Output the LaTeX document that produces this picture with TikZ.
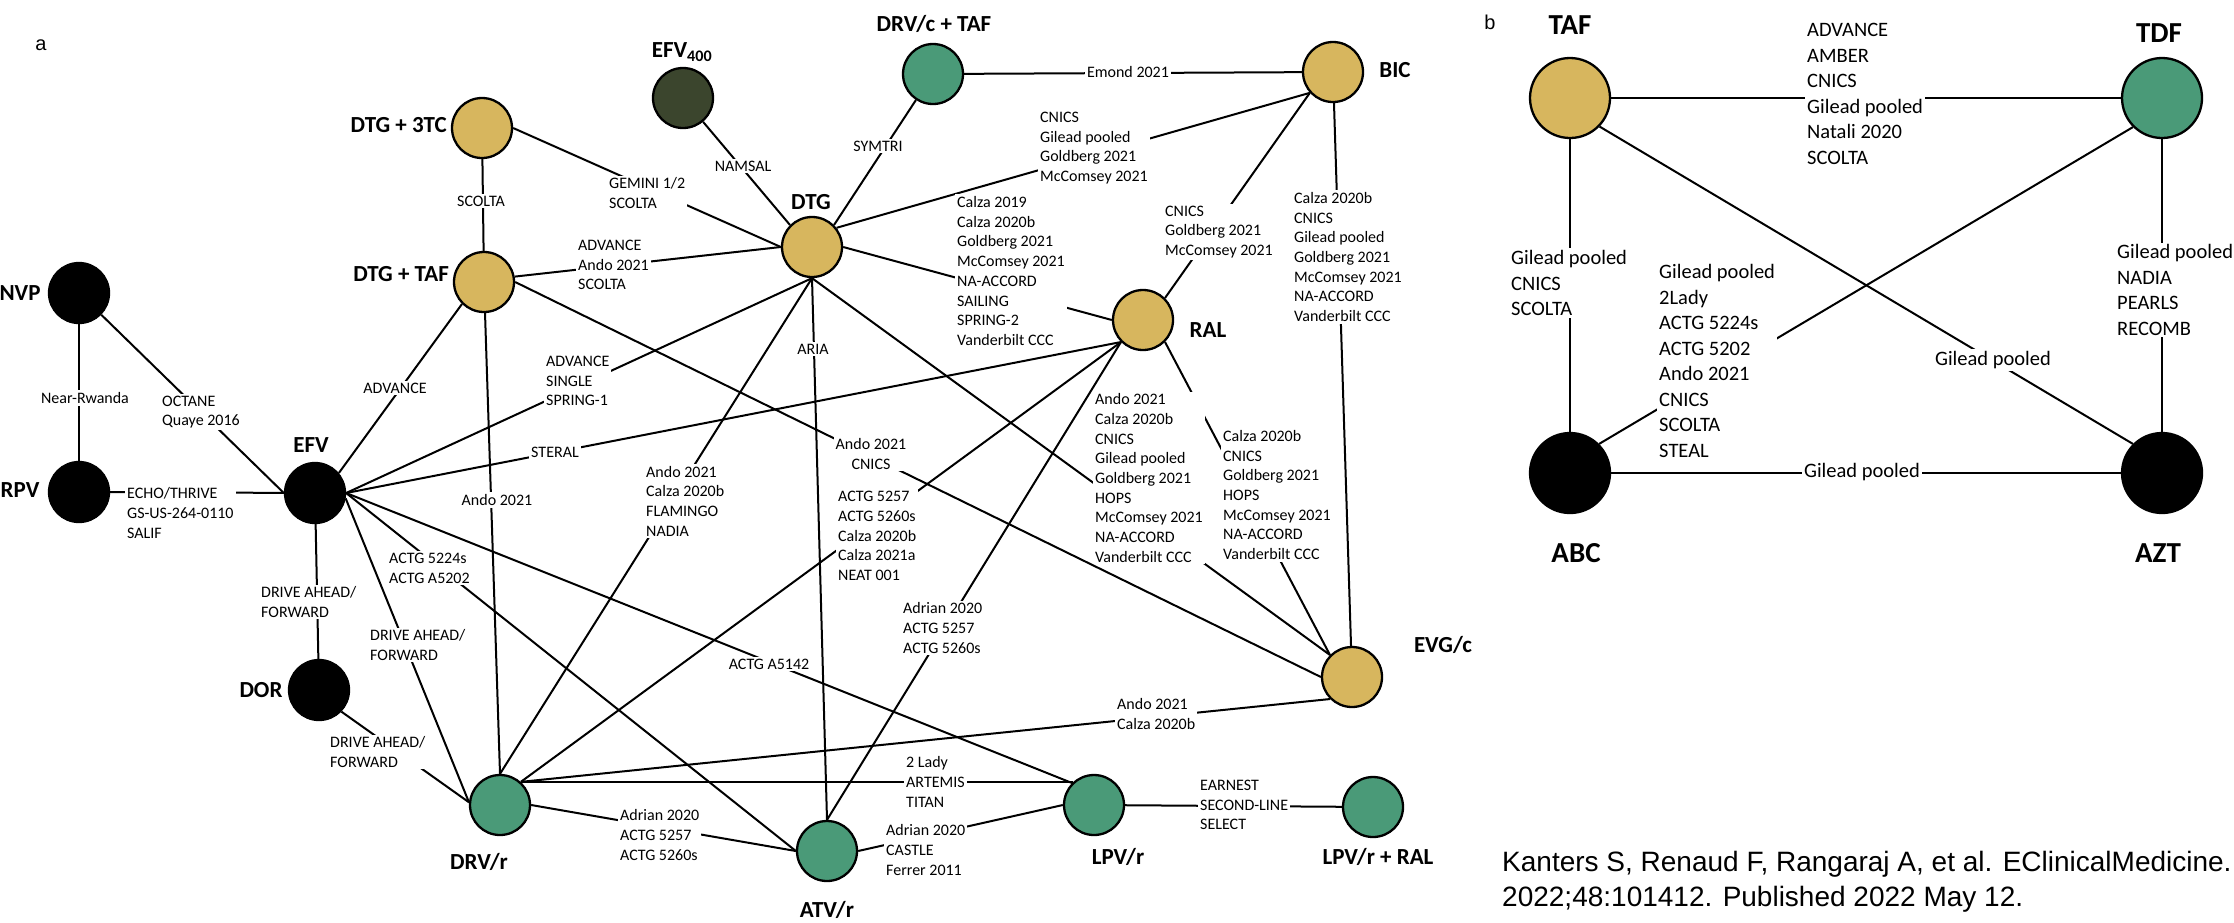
\documentclass[tikz,border=0pt]{standalone}
\usepackage{fontspec}
\setmainfont{Carlito}
\newfontfamily\citefont{Liberation Sans}
\usetikzlibrary{positioning}
\definecolor{regimengold}{HTML}{D7B65E}
\definecolor{regimengreen}{HTML}{4A9A78}
\definecolor{regimenolive}{HTML}{3B452D}

\begin{document}
\begin{tikzpicture}[x=1pt, y=-1pt]
    \tikzstyle{every node}=[font=\fontsize{16}{19.7}\selectfont]
    \tikzstyle{vertex} = [circle, draw=black, line width=2.3pt, minimum size=60pt, inner sep=0pt]
    \tikzstyle{goldvertex} = [vertex, fill=regimengold]
    \tikzstyle{greenvertex} = [vertex, fill=regimengreen]
    \tikzstyle{blackvertex} = [vertex, fill=black]
    \tikzstyle{olivevertex} = [vertex, fill=regimenolive]
    \tikzstyle{bigvertex} = [minimum size=80pt]
    \tikzstyle{drugname} = [font=\fontsize{23}{27}\selectfont\bfseries, inner sep=0pt]
    \tikzstyle{bigname} = [font=\fontsize{29}{34}\selectfont\bfseries, inner sep=0pt]
    \tikzstyle{study} = [fill=white, align=left, inner sep=2pt]
    \tikzstyle{bigstudy} = [study, font=\fontsize{20.5}{25.5}\selectfont]
    \tikzstyle{edge} = [line width=2pt]

    \useasboundingbox (0,0) rectangle (2234,922);

    % panel a
    \node[font=\citefont\fontsize{20}{24}\selectfont] (panela) at (41,45) {a};

    \node[blackvertex](nvp) at (79,293) {};
    \node[blackvertex](rpv) at (79,492) {};
    \node[blackvertex](efv) at (315,493) {};
    \node[blackvertex](dor) at (319,690) {};
    \node[goldvertex](dtg3tc) at (482,128) {};
    \node[goldvertex](dtgtaf) at (484,282) {};
    \node[olivevertex](efv400) at (683,98) {};
    \node[greenvertex](drvctaf) at (933,74) {};
    \node[goldvertex](dtg) at (812,247) {};
    \node[goldvertex](bic) at (1333,72) {};
    \node[goldvertex](ral) at (1143,320) {};
    \node[goldvertex](evgc) at (1352,677) {};
    \node[greenvertex](drvr) at (500,805) {};
    \node[greenvertex](atvr) at (827,851) {};
    \node[greenvertex](lpvr) at (1094,805) {};
    \node[greenvertex](lpvrral) at (1373,807) {};

    \node[drugname](tnvp) at (20,293) {NVP};
    \node[drugname](trpv) at (20,490) {RPV};
    \node[drugname](tefv) at (311,445) {EFV};
    \node[drugname](tdor) at (261,690) {DOR};
    \node[drugname, anchor=east](tdtg3tc) at (447,125) {DTG + 3TC};
    \node[drugname, anchor=east](tdtgtaf) at (449,274) {DTG + TAF};
    \node[drugname](tefv400) at (682,52) {EFV\textsubscript{400}};
    \node[drugname](tdrvctaf) at (934,24) {DRV/c + TAF};
    \node[drugname](tdtg) at (811,202) {DTG};
    \node[drugname](tbic) at (1395,70) {BIC};
    \node[drugname](tral) at (1208,330) {RAL};
    \node[drugname](tevgc) at (1443,645) {EVG/c};
    \node[drugname](tdrvr) at (479,862) {DRV/r};
    \node[drugname](tatvr) at (827,910) {ATV/r};
    \node[drugname](tlpvr) at (1118,857) {LPV/r};
    \node[drugname](tlpvrral) at (1378,857) {LPV/r + RAL};

    \draw[edge] (nvp) -- (rpv);
    \draw[edge] (nvp) -- (efv.west);
    \draw[edge] (rpv) -- (efv);
    \draw[edge] (efv) -- (dor);
    \draw[edge] (efv.-10) -- (drvr.175);
    \draw[edge] (dor.-44) -- (drvr.175);
    \draw[edge] (efv.east) -- (atvr.west);
    \draw[edge] (efv.east) -- (lpvr.135);
    \draw[edge] (efv.40) -- (dtgtaf.225);
    \draw[edge] (efv.east) -- (dtg.south);
    \draw[edge] (efv.east) -- (ral.225);
    \draw[edge] (dtg3tc) -- (dtgtaf);
    \draw[edge] (dtg3tc.east) -- (dtg.west);
    \draw[edge] (dtgtaf.10) -- (dtg.west);
    \draw[edge] (dtgtaf) -- (drvr.north);
    \draw[edge] (dtgtaf.east) -- (evgc.west);
    \draw[edge] (efv400) -- (dtg.135);
    \draw[edge] (drvctaf) -- (dtg.45);
    \draw[edge] (drvctaf) -- (bic);
    \draw[edge] (dtg.38) -- (bic.222);
    \draw[edge] (dtg.east) -- (ral.west);
    \draw[edge] (dtg.south) -- (atvr.north);
    \draw[edge] (dtg.south) -- (drvr.north);
    \draw[edge] (dtg.south) -- (evgc.135);
    \draw[edge] (ral.45) -- (bic.222);
    \draw[edge] (bic) -- (evgc);
    \draw[edge] (ral.-45) -- (evgc.135);
    \draw[edge] (ral.225) -- (drvr.48);
    \draw[edge] (ral.225) -- (atvr.north);
    \draw[edge] (drvr.48) -- (evgc.225);
    \draw[edge] (drvr.48) -- (lpvr.132);
    \draw[edge] (drvr.east) -- (atvr.west);
    \draw[edge] (atvr.east) -- (lpvr.west);
    \draw[edge] (lpvr) -- (lpvrral);

    \node[study](lnear) at (85,398) {Near-Rwanda};
    \node[study, anchor=west](loctane) at (160,412) {OCTANE\\Quaye 2016};
    \node[study, anchor=west](lecho) at (125,513) {ECHO/THRIVE\\GS-US-264-0110\\SALIF};
    \node[study, anchor=west](ldrivea) at (259,602) {DRIVE AHEAD/\\FORWARD};
    \node[study, anchor=west](ldriveb) at (368,645) {DRIVE AHEAD/\\FORWARD};
    \node[study, anchor=west](ldrivec) at (328,752) {DRIVE AHEAD/\\FORWARD};
    \node[study, anchor=west](lactga) at (387,568) {ACTG 5224s\\ACTG A5202};
    \node[study](lactgc) at (769,664) {ACTG A5142};
    \node[study](ladva) at (395,388) {ADVANCE};
    \node[study, anchor=west](ladvc) at (544,381) {ADVANCE\\SINGLE\\SPRING-1};
    \node[study](lsteral) at (555,452) {STERAL};
    \node[study](lscolta) at (481,201) {SCOLTA};
    \node[study, anchor=west](lgemini) at (607,193) {GEMINI 1/2\\SCOLTA};
    \node[study, anchor=west](ladvb) at (576,265) {ADVANCE\\Ando 2021\\SCOLTA};
    \node[study](landoa) at (497,500) {Ando 2021};
    \node[study, align=center](landob) at (871,454) {Ando 2021\\CNICS};
    \node[study](lnamsal) at (743,166) {NAMSAL};
    \node[study](lsymtri) at (878,146) {SYMTRI};
    \node[study](lemond) at (1128,72) {Emond 2021};
    \node[study, anchor=west](lcnicsa) at (1038,148) {CNICS\\Gilead pooled\\Goldberg 2021\\McComsey 2021};
    \node[study, anchor=west](lcalzaa) at (955,271) {Calza 2019\\Calza 2020b\\Goldberg 2021\\McComsey 2021\\NA-ACCORD\\SAILING\\SPRING-2\\Vanderbilt CCC};
    \node[study](laria) at (813,349) {ARIA};
    \node[study, anchor=west](landoe) at (644,501) {Ando 2021\\Calza 2020b\\FLAMINGO\\NADIA};
    \node[study, anchor=west](landoc) at (1093,478) {Ando 2021\\Calza 2020b\\CNICS\\Gilead pooled\\Goldberg 2021\\HOPS\\McComsey 2021\\NA-ACCORD\\Vanderbilt CCC};
    \node[study, anchor=west](lcnicsb) at (1163,232) {CNICS\\Goldberg 2021\\McComsey 2021};
    \node[study, anchor=west](lcalzab) at (1292,257) {Calza 2020b\\CNICS\\Gilead pooled\\Goldberg 2021\\McComsey 2021\\NA-ACCORD\\Vanderbilt CCC};
    \node[study, anchor=west](lcalzac) at (1221,495) {Calza 2020b\\CNICS\\Goldberg 2021\\HOPS\\McComsey 2021\\NA-ACCORD\\Vanderbilt CCC};
    \node[study, anchor=west](lactgb) at (836,536) {ACTG 5257\\ACTG 5260s\\Calza 2020b\\Calza 2021a\\NEAT 001};
    \node[study, anchor=west](ladriana) at (901,628) {Adrian 2020\\ACTG 5257\\ACTG 5260s};
    \node[study, anchor=west](landod) at (1115,714) {Ando 2021\\Calza 2020b};
    \node[study, anchor=west](ltwolady) at (904,782) {2 Lady\\ARTEMIS\\TITAN};
    \node[study, anchor=west](ladrianb) at (618,835) {Adrian 2020\\ACTG 5257\\ACTG 5260s};
    \node[study, anchor=west](ladrianc) at (884,850) {Adrian 2020\\CASTLE\\Ferrer 2011};
    \node[study, anchor=west](learnest) at (1198,805) {EARNEST\\SECOND-LINE\\SELECT};

    % panel b
    \node[font=\citefont\fontsize{20}{24}\selectfont] (panelb) at (1490,22) {b};

    \node[goldvertex, bigvertex](taf) at (1570,98) {};
    \node[greenvertex, bigvertex](tdf) at (2162,98) {};
    \node[blackvertex, bigvertex](abc) at (1570,473) {};
    \node[blackvertex, bigvertex](azt) at (2162,473) {};

    \node[bigname](ttaf) at (1570,25) {TAF};
    \node[bigname](ttdf) at (2159,33) {TDF};
    \node[bigname](tabc) at (1576,553) {ABC};
    \node[bigname](tazt) at (2158,553) {AZT};

    \draw[edge] (taf) -- (tdf);
    \draw[edge] (taf) -- (abc);
    \draw[edge] (taf.-44) -- (azt.135);
    \draw[edge] (tdf.225) -- (abc.45);
    \draw[edge] (tdf) -- (azt);
    \draw[edge] (abc) -- (azt);

    \node[bigstudy, anchor=west](badvance) at (1805,94) {ADVANCE\\AMBER\\CNICS\\Gilead pooled\\Natali 2020\\SCOLTA};
    \node[bigstudy, anchor=west](btafabc) at (1509,283) {Gilead pooled\\CNICS\\SCOLTA};
    \node[bigstudy](btafazt) at (1993,360) {Gilead pooled};
    \node[bigstudy, anchor=west](btdfabc) at (1657,361) {Gilead pooled\\2Lady\\ACTG 5224s\\ACTG 5202\\Ando 2021\\CNICS\\SCOLTA\\STEAL};
    \node[bigstudy, anchor=west](btdfazt) at (2115,290) {Gilead pooled\\NADIA\\PEARLS\\RECOMB};
    \node[bigstudy](babcazt) at (1862,472) {Gilead pooled};

    \node[anchor=west, align=left, inner sep=0pt, font=\citefont\fontsize{28}{35}\selectfont](source) at (1502,882) {Kanters S, Renaud F, Rangaraj A, et al. EClinicalMedicine.\\2022;48:101412. Published 2022 May 12.};
\end{tikzpicture}
\end{document}
